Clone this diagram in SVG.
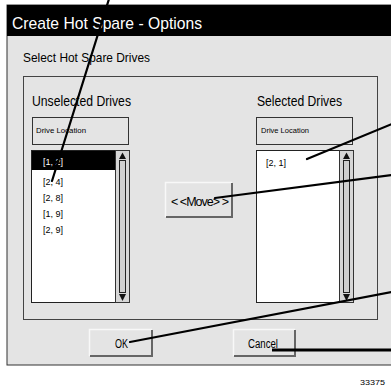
<svg xmlns="http://www.w3.org/2000/svg" width="391" height="391" viewBox="0 0 391 391">
  <style>
    text { font-family: "Liberation Sans", Arial, sans-serif; fill: #000; }
    .panel { fill: #e4e4e4; stroke: #444; stroke-width: 1; }
    .hdr { fill: #e4e4e4; stroke: #333; stroke-width: 1; }
    .list { fill: #ffffff; stroke: #222; stroke-width: 1; }
    .sbar { fill: #d6d6d6; stroke: #333; stroke-width: 1; }
    .track { fill: #cfcfcf; stroke: #222; stroke-width: 1; }
    .arrow { fill: #111; }
    .btn { fill: #e4e4e4; }
    .btn-hi { fill: none; stroke: #f8f8f8; stroke-width: 1.5; }
    .btn-sh { fill: none; stroke: #666; stroke-width: 2; }
    .small { font-size: 8px; }
    .item { font-size: 9px; }
    .leader { stroke: #000; stroke-width: 2.2; fill: none; stroke-linecap: round; }
  </style>

  <rect width="391" height="391" fill="#ffffff"/>

  <!-- dialog window -->
  <g id="dialog">
    <rect x="7" y="5" width="390" height="360" fill="#e4e4e4" stroke="#333" stroke-width="1"/>
    <rect x="7" y="5" width="390" height="31" fill="#000"/>
    <text x="12" y="29" font-size="17" textLength="190" lengthAdjust="spacingAndGlyphs" style="fill:#fff">Create Hot Spare - Options</text>
    <text x="23" y="62" font-size="13.5" textLength="127" lengthAdjust="spacingAndGlyphs">Select Hot Spare Drives</text>
  </g>

  <!-- group box holding both lists -->
  <g id="drive-group">
    <rect class="panel" x="23.5" y="76.5" width="354" height="243"/>
    <text x="32" y="106" font-size="14" textLength="99" lengthAdjust="spacingAndGlyphs">Unselected Drives</text>
    <text x="257" y="106" font-size="14" textLength="85" lengthAdjust="spacingAndGlyphs">Selected Drives</text>
  </g>

  <!-- unselected drives list -->
  <g id="unselected-list">
    <rect class="hdr" x="32.5" y="117.5" width="96" height="27"/>
    <text class="small" x="36" y="133" textLength="50" lengthAdjust="spacingAndGlyphs">Drive Location</text>
    <rect class="list" x="31.5" y="150.5" width="98" height="152"/>
    <rect x="32" y="151" width="83" height="19" fill="#000"/>
    <text class="item" x="43" y="165" style="fill:#fff">[1, 2]</text>
    <text class="item" x="43" y="185">[2, 4]</text>
    <text class="item" x="43" y="201">[2, 8]</text>
    <text class="item" x="43" y="217">[1, 9]</text>
    <text class="item" x="43" y="233">[2, 9]</text>
    <rect class="sbar" x="115.5" y="150.5" width="14" height="152"/>
    <rect class="track" x="119.5" y="160.5" width="6" height="132"/>
    <polygon class="arrow" points="122.5,152.5 119,159 126,159"/>
    <polygon class="arrow" points="119,294 126,294 122.5,301"/>
  </g>

  <!-- selected drives list -->
  <g id="selected-list">
    <rect class="hdr" x="256.5" y="117.5" width="96" height="27"/>
    <text class="small" x="261" y="133" textLength="48" lengthAdjust="spacingAndGlyphs">Drive Location</text>
    <rect class="list" x="256.5" y="150.5" width="97" height="152"/>
    <text class="item" x="266" y="166">[2, 1]</text>
    <rect class="sbar" x="339.5" y="150.5" width="14" height="152"/>
    <rect class="track" x="343.5" y="160.5" width="6" height="132"/>
    <polygon class="arrow" points="346.5,152.5 343,159 350,159"/>
    <polygon class="arrow" points="343,294 350,294 346.5,301"/>
  </g>

  <!-- move button -->
  <g id="move-button">
    <rect class="btn" x="165" y="182" width="68" height="36"/>
    <polyline class="btn-hi" points="165.5,217 165.5,182.5 232,182.5"/>
    <polyline class="btn-sh" points="166,217 232,217 232,183"/>
    <text x="171" y="206" font-size="12.5" textLength="58" lengthAdjust="spacing">&lt; &lt;Move&gt; &gt;</text>
  </g>

  <!-- OK button -->
  <g id="ok-button">
    <rect class="btn" x="89" y="329" width="64" height="28"/>
    <polyline class="btn-hi" points="89.5,356 89.5,329.5 152,329.5"/>
    <polyline class="btn-sh" points="90,356 152,356 152,330"/>
    <text x="115" y="348" font-size="12.5" textLength="13" lengthAdjust="spacingAndGlyphs">OK</text>
  </g>

  <!-- Cancel button -->
  <g id="cancel-button">
    <rect class="btn" x="233" y="329" width="63" height="28"/>
    <polyline class="btn-hi" points="233.5,356 233.5,329.5 295,329.5"/>
    <polyline class="btn-sh" points="234,356 295,356 295,330"/>
    <text x="248" y="348" font-size="12.5" textLength="30" lengthAdjust="spacingAndGlyphs">Cancel</text>
  </g>

  <!-- callout leader lines -->
  <g id="connectors">
    <line class="leader" x1="109" y1="-1" x2="52" y2="181"/>
    <line class="leader" x1="392" y1="124" x2="307" y2="159"/>
    <line class="leader" x1="392" y1="175" x2="215" y2="198"/>
    <line class="leader" x1="392" y1="292" x2="130" y2="342"/>
    <line class="leader" x1="392" y1="350" x2="272" y2="350" style="stroke-width:2.8;stroke-linecap:butt"/>
  </g>

  <!-- figure number -->
  <g id="figure-number">
    <text x="360" y="385" font-size="8" textLength="25" lengthAdjust="spacingAndGlyphs">33375</text>
  </g>
</svg>
